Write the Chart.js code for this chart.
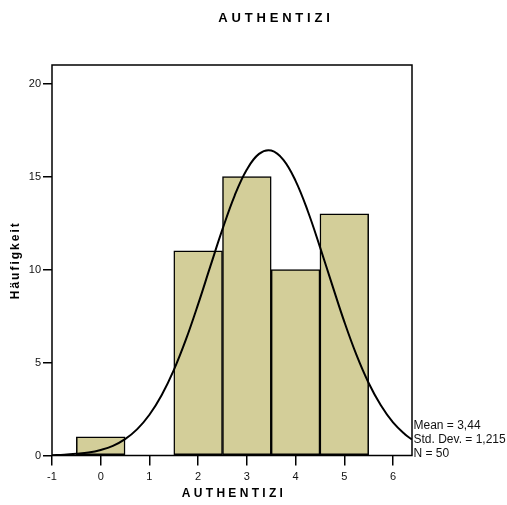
<!DOCTYPE html>
<html>
<head>
<meta charset="utf-8">
<script src="https://cdn.jsdelivr.net/npm/chart.js@4/dist/chart.umd.min.js"></script>
<style>
html,body{margin:0;padding:0;background:#fff;}
#wrap{position:relative;width:507px;height:505px;}
</style>
</head>
<body>
<div id="wrap"><canvas id="c" width="507" height="505"></canvas></div>
<script>
// ---- data ----
const chartTitle = "AUTHENTIZI";
const xTitle = "AUTHENTIZI";
const yTitle = "Häufigkeit";
const binCenters = [0, 1, 2, 3, 4, 5];
const binCounts  = [1, 0, 11, 15, 10, 13];
// normal curve
const curveX = [-1, -0.75, -0.5, -0.25, 0, 0.25, 0.5, 0.75, 1, 1.25, 1.5, 1.75, 2, 2.25, 2.5, 2.75, 3, 3.25, 3.5, 3.75, 4, 4.25, 4.5, 4.75, 5, 5.25, 5.5, 5.75, 6, 6.25, 6.39];
const curveY = [0.02, 0.04, 0.09, 0.16, 0.3, 0.52, 0.88, 1.42, 2.19, 3.24, 4.59, 6.24, 8.14, 10.17, 12.17, 13.98, 15.38, 16.22, 16.4, 15.9, 14.77, 13.15, 11.22, 9.19, 7.2, 5.41, 3.9, 2.7, 1.78, 1.13, 0.86];
const statsLines = ["Mean = 3,44", "Std. Dev. = 1,215", "N = 50"];
const yTicks = [0, 5, 10, 15, 20];
const xTicks = [-1, 0, 1, 2, 3, 4, 5, 6];

const FONT = "'Liberation Sans', Arial, sans-serif";

const decor = {
  id: 'decor',
  afterDatasetsDraw(chart) {
    const ctx = chart.ctx, a = chart.chartArea;
    ctx.save();
    ctx.strokeStyle = '#000';
    ctx.lineWidth = 1.5;
    ctx.strokeRect(a.left, a.top, a.right - a.left, a.bottom - a.top);
    ctx.restore();
  },
  afterDraw(chart) {
    const ctx = chart.ctx, a = chart.chartArea;
    ctx.save();
    ctx.fillStyle = '#000';
    // main title
    ctx.font = "bold 13px " + FONT;
    ctx.letterSpacing = '3.8px';
    ctx.textAlign = 'center';
    ctx.textBaseline = 'middle';
    ctx.fillText(chartTitle, 276, 18.5);
    // x title
    ctx.font = "bold 12px " + FONT;
    ctx.letterSpacing = '3.3px';
    ctx.fillText(xTitle, (a.left + a.right) / 2 + 2, 494);
    // y title
    ctx.save();
    ctx.translate(16, (a.top + a.bottom) / 2);
    ctx.rotate(-Math.PI / 2);
    ctx.font = "bold 12px " + FONT;
    ctx.letterSpacing = '2px';
    ctx.fillText(yTitle, 0, 0);
    ctx.restore();
    // stats
    ctx.letterSpacing = '0px';
    ctx.font = "12px " + FONT;
    ctx.textAlign = 'left';
    ctx.fillStyle = '#111';
    statsLines.forEach((s, i) => ctx.fillText(s, a.right + 1.5, 425.5 + i * 14));
    ctx.restore();
  }
};

new Chart(document.getElementById('c'), {
  type: 'bar',
  data: {
    datasets: [
      {
        type: 'line',
        data: curveX.map((x, i) => ({x: x, y: curveY[i]})),
        borderColor: '#000',
        borderWidth: 2,
        pointRadius: 0,
        tension: 0.4,
        fill: false,
        order: 0
      },
      {
        type: 'bar',
        data: binCenters.map((x, i) => ({x: x, y: binCounts[i]})),
        backgroundColor: '#D3CE99',
        borderColor: '#000',
        borderWidth: 1.5,
        borderSkipped: false,
        barPercentage: 1,
        categoryPercentage: 1,
        order: 1
      }
    ]
  },
  options: {
    responsive: false,
    animation: false,
    events: [],
    layout: { padding: { left: 0, right: 95, top: 65, bottom: 0 } },
    plugins: { legend: { display: false }, tooltip: { enabled: false }, title: { display: false } },
    scales: {
      x: {
        type: 'linear',
        min: -1, max: 6.39,
        offset: false,
        grid: { offset: false, drawOnChartArea: false, drawTicks: true, tickLength: 10, color: '#000', lineWidth: 1.5 },
        border: { display: false },
        afterBuildTicks(s) { s.ticks = xTicks.map(v => ({value: v})); },
        afterFit(s) { s.height = 49.5; },
        ticks: { color: '#111', font: { family: FONT, size: 11 }, padding: 5, autoSkip: false, maxRotation: 0 }
      },
      y: {
        min: 0, max: 21,
        grid: { drawOnChartArea: false, drawTicks: true, tickLength: 9, color: '#000', lineWidth: 1.5 },
        border: { display: false },
        afterBuildTicks(s) { s.ticks = yTicks.map(v => ({value: v})); },
        afterFit(s) { s.width = 52; },
        ticks: { color: '#111', font: { family: FONT, size: 11 }, padding: 2 }
      }
    }
  },
  plugins: [decor]
});
</script>
</body>
</html>
